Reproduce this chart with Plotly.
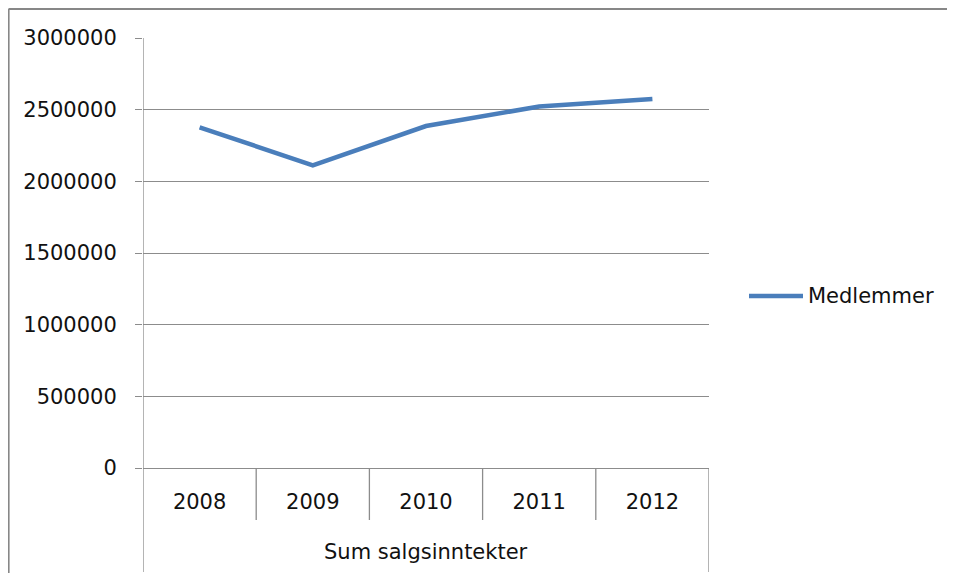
import plotly.graph_objects as go

years = ["2008", "2009", "2010", "2011", "2012"]
medlemmer = [2377000, 2112000, 2386000, 2522000, 2575000]
series_name = "Medlemmer"
group_label = "Sum salgsinntekter"
y_ticks = [0, 500000, 1000000, 1500000, 2000000, 2500000, 3000000]

OFF = 8  # page body margin
W, H = 955 - 2 * OFF, 581 - 2 * OFF
L = 143 - OFF
T = 38 - OFF
R = W - (709 - OFF)
B = H - (468 - OFF)
pw, ph = W - L - R, H - T - B

def px_x(x):
    return (x - OFF - L) / pw

def px_y(y):
    return (H - B - (y - OFF)) / ph

GRID = "#8c8c8c"
BORDER = "#878787"
LINE_COLOR = "#4a7ebb"
FONT = "DejaVu Sans"
FS = 21

fig = go.Figure()
fig.add_trace(go.Scatter(
    x=years, y=medlemmer, mode="lines", name=series_name,
    line=dict(color=LINE_COLOR, width=4.5), showlegend=False,
))

shapes = []
for i in range(1, len(years)):
    shapes.append(dict(type="line", xref="x", yref="paper", x0=i - 0.5, x1=i - 0.5,
                       y0=0, y1=px_y(520), line=dict(color=GRID, width=1.3)))
for xv in (-0.5, len(years) - 0.5):
    shapes.append(dict(type="line", xref="x", yref="paper", x0=xv, x1=xv,
                       y0=px_y(572), y1=0 if xv > 0 else 1, line=dict(color=GRID, width=1.3)))
# chart outer border (top and left edges visible)
shapes.append(dict(type="line", xref="paper", yref="paper", x0=px_x(8.5), x1=px_x(947),
                   y0=px_y(9), y1=px_y(9), line=dict(color=BORDER, width=2.2)))
shapes.append(dict(type="line", xref="paper", yref="paper", x0=px_x(8.5), x1=px_x(8.5),
                   y0=px_y(9), y1=px_y(573), line=dict(color=BORDER, width=2.2)))
# legend key
shapes.append(dict(type="line", xref="paper", yref="paper", x0=px_x(749), x1=px_x(803),
                   y0=px_y(296), y1=px_y(296), line=dict(color=LINE_COLOR, width=4.5)))

fig.update_layout(
    width=W, height=H,
    margin=dict(l=L, r=R, t=T, b=B),
    paper_bgcolor="white", plot_bgcolor="white",
    font=dict(family=FONT, size=FS, color="#111111"),
    showlegend=False,
    xaxis=dict(type="category", range=[-0.5, len(years) - 0.5], showgrid=False,
               showline=True, linecolor=GRID, linewidth=1.3, ticks="",
               tickfont=dict(size=FS), ticklabelstandoff=15, zeroline=False),
    yaxis=dict(range=[0, 3000000], tickvals=y_ticks, ticktext=[str(v) for v in y_ticks],
               showgrid=True, gridcolor=GRID, gridwidth=1.3, showline=False,
               ticks="outside", ticklen=7, tickcolor=GRID, tickwidth=1.3,
               tickfont=dict(size=FS), zeroline=False, ticklabelstandoff=14),
    shapes=shapes,
    annotations=[
        dict(text=group_label, xref="paper", yref="paper", x=0.5, y=px_y(552),
             xanchor="center", yanchor="middle", showarrow=False,
             font=dict(size=FS, family=FONT)),
        dict(text=series_name, xref="paper", yref="paper", x=px_x(806), y=px_y(296),
             xanchor="left", yanchor="middle", showarrow=False,
             font=dict(size=FS, family=FONT)),
    ],
)

fig.write_html("out.html")
